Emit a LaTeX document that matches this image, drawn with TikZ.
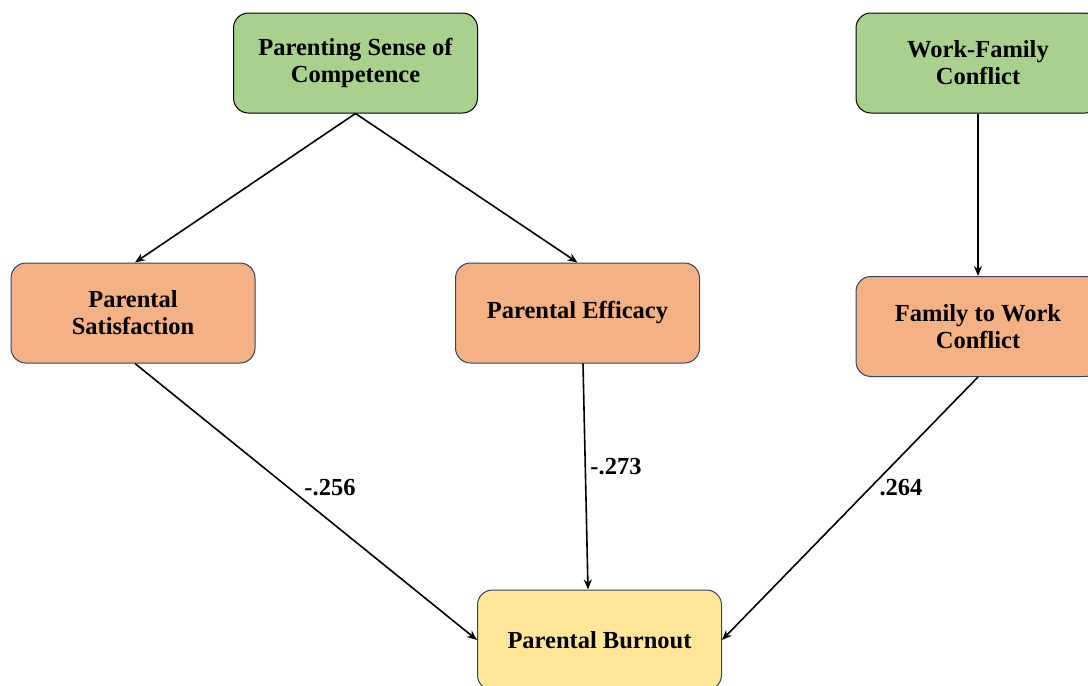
\documentclass[tikz,border=0pt]{standalone}
\usepackage{fontspec}
\setmainfont{Liberation Serif}
\usetikzlibrary{arrows.meta}
\definecolor{boxgreen}{HTML}{A9D18E}
\definecolor{boxorange}{HTML}{F4B183}
\definecolor{boxyellow}{HTML}{FFE699}
\definecolor{boxline}{HTML}{2F4464}
\begin{document}
\begin{tikzpicture}[x=1pt, y=-1pt,
    box/.style={rounded corners=15pt, minimum width=244pt, minimum height=100pt,
        align=center, font=\fontsize{24.5}{27}\selectfont\bfseries, line width=1pt},
    topbox/.style={box, draw=black, fill=boxgreen},
    midbox/.style={box, draw=boxline, fill=boxorange},
    endbox/.style={box, draw=boxline, fill=boxyellow},
    path/.style={line width=1.6pt, -{Stealth[length=10pt, width=8pt]}},
    coef/.style={font=\fontsize{24.5}{27}\selectfont\bfseries}]
    \useasboundingbox (0,0) rectangle (1088,686);
    % upper row
    \node[topbox] (psc) at (355.5,63) {Parenting Sense of\\Competence};
    \node[topbox] (wfc) at (978,63) {Work-Family\\Conflict};
    % middle row
    \node[midbox] (ps) at (133,313) {Parental\\Satisfaction};
    \node[midbox] (pe) at (577.5,313) {Parental Efficacy};
    \node[midbox] (fwc) at (978,326.5) {Family to Work\\Conflict};
    % outcome
    \node[endbox] (pb) at (599.5,640) {Parental Burnout};
    % paths
    \draw[path] (psc.south) -- ([xshift=2pt]ps.north);
    \draw[path] (psc.south) -- (pe.north);
    \draw[path] (wfc.south) -- (fwc.north);
    \draw[path] ([xshift=2pt]ps.south) -- (pb.west);
    \draw[path] ([xshift=5.5pt]pe.south) -- ([xshift=-11.5pt]pb.north);
    \draw[path] (fwc.south) -- (pb.east);
    % coefficients
    \node[coef] (c1) at (330,488) {-.256};
    \node[coef] (c2) at (616,467) {-.273};
    \node[coef] (c3) at (901,488) {.264};
\end{tikzpicture}
\end{document}
